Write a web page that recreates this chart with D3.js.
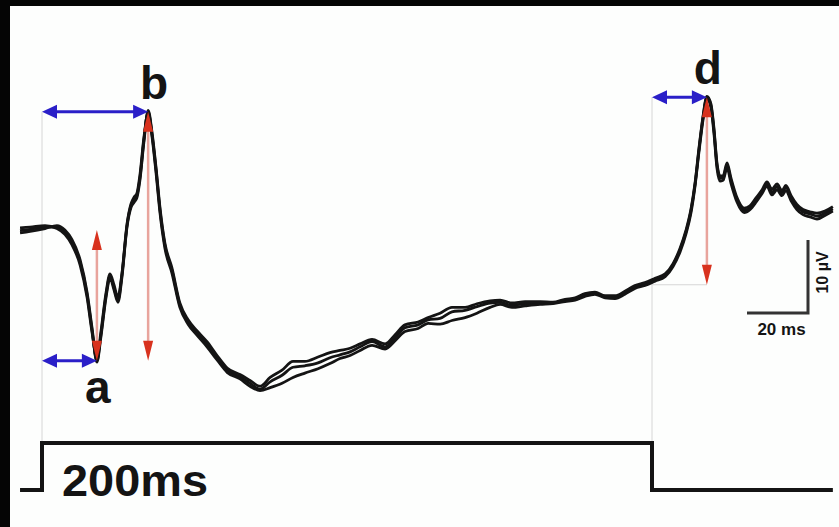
<!DOCTYPE html>
<html>
<head>
<meta charset="utf-8">
<script src="https://cdn.jsdelivr.net/npm/d3@7"></script>
<style>
  body { margin: 0; background: #fdfefd; }
  svg { display: block; }
  text { font-family: "Liberation Sans", Arial, sans-serif; font-weight: bold; fill: #141414; }
</style>
</head>
<body>
<script>
// time of each sample (ms after stimulus onset)
var timeMs = [-7.2,-3.9,1.0,4.9,7.5,9.8,12.5,14.8,16.4,18.0,
  19.3,21.0,22.3,23.6,24.9,26.2,27.9,29.2,30.2,31.1,
  32.1,33.4,34.8,36.1,37.4,38.7,40.3,42.6,45.2,47.9,
  50.8,54.1,57.4,60.7,64.9,68.2,71.5,74.8,78.7,82.3,
  86.2,90.5,94.4,97.7,101.0,104.3,108.2,112.5,115.7,119.0,
  123.3,126.6,130.5,134.4,138.7,142.6,146.9,150.2,154.1,158.4,
  163.3,167.5,171.5,174.8,178.0,181.3,184.6,187.9,191.1,194.4,
  197.7,201.0,204.3,206.9,209.2,211.1,212.8,214.1,215.4,216.7,
  218.0,219.3,220.3,221.3,222.3,223.3,224.6,225.9,227.9,230.2,
  232.1,234.1,236.1,237.7,239.3,241.0,242.6,243.9,245.6,247.5,
  249.5,251.8,254.1,256.7,259.3];

// three recorded responses (µV)
var traceA = [-0.1,0.1,0.4,0.4,-0.3,-1.6,-4.4,-8.9,-13.7,-17.9,
  -14.4,-8.9,-6.3,-7.9,-9.6,-6.2,0.7,3.4,4.1,4.7,
  7.1,12.3,16.2,13.0,8.2,2.7,-2.1,-5.5,-10.3,-12.6,
  -14.1,-15.6,-17.5,-19.2,-20.1,-21.0,-21.8,-20.8,-19.9,-18.8,
  -18.6,-18.2,-17.5,-17.1,-16.7,-16.0,-15.3,-16.0,-14.8,-13.4,
  -13.0,-12.3,-12.1,-11.2,-11.0,-10.5,-10.0,-9.9,-10.3,-10.1,
  -10.0,-10.0,-9.6,-9.5,-8.9,-8.6,-9.2,-9.2,-8.6,-7.8,
  -7.4,-6.8,-6.2,-4.8,-2.7,-0.3,2.7,6.2,11.0,15.3,
  18.2,17.1,13.7,8.9,7.1,7.1,8.9,6.8,4.1,2.7,
  3.0,4.1,5.2,6.3,5.2,5.9,5.1,5.8,4.4,3.2,
  2.5,2.2,1.9,2.3,2.9];
var traceB = [0.3,0.4,0.6,0.2,-0.6,-2.0,-4.8,-9.3,-14.0,-17.6,
  -14.0,-8.6,-6.0,-7.5,-9.2,-6.0,0.9,3.6,4.5,5.0,
  7.5,12.6,16.0,12.7,7.8,2.3,-2.5,-5.9,-10.6,-12.9,
  -14.4,-16.0,-17.8,-19.5,-20.4,-21.4,-22.0,-21.6,-21.0,-20.2,
  -19.6,-19.0,-18.3,-17.6,-17.2,-16.5,-15.8,-16.3,-15.2,-13.9,
  -13.5,-12.8,-12.9,-12.4,-12.0,-11.4,-10.6,-10.2,-10.6,-10.4,
  -10.2,-10.1,-9.8,-9.6,-9.1,-8.8,-9.3,-9.4,-8.8,-8.0,
  -7.6,-7.0,-6.4,-5.0,-3.0,-0.6,2.4,6.0,10.7,15.0,
  18.0,16.8,13.3,8.5,6.7,6.8,8.5,6.4,3.8,2.4,
  2.8,3.8,5.0,6.0,4.8,5.5,4.7,5.4,4.0,2.8,
  2.1,1.8,1.5,2.0,2.6];
var traceC = [-0.4,-0.2,0.2,0.6,0.0,-1.3,-4.1,-8.6,-13.4,-18.1,
  -14.7,-9.2,-6.6,-8.2,-9.9,-6.5,0.5,3.1,3.8,4.4,
  6.8,12.0,16.4,13.3,8.5,3.0,-1.8,-5.2,-10.0,-12.3,
  -13.8,-15.3,-17.2,-18.9,-19.8,-20.6,-21.4,-20.2,-19.2,-18.0,
  -18.0,-17.4,-16.8,-16.5,-16.2,-15.6,-15.0,-15.6,-14.4,-13.0,
  -12.6,-12.0,-11.4,-10.6,-10.6,-10.1,-9.7,-9.6,-10.0,-9.8,
  -9.8,-9.9,-9.5,-9.3,-8.7,-8.5,-9.0,-9.0,-8.4,-7.6,
  -7.2,-6.6,-6.0,-4.6,-2.5,-0.1,2.9,6.4,11.2,15.5,
  18.3,17.3,14.0,9.2,7.4,7.4,9.2,7.1,4.4,3.0,
  3.3,4.4,5.5,6.6,5.6,6.3,5.4,6.1,4.7,3.5,
  2.8,2.5,2.3,2.6,3.2];
var traces = [traceA, traceB, traceC];

// stimulus: light off / on
var stimTimes = [-7.2, 0, 0, 200, 200, 259.3];
var stimLevels = [0, 0, 1, 1, 0, 0];
var stimLabel = "200ms";

// measured waves: a-wave trough, b-wave peak, d-wave peak
var waveNames = ["a", "b", "d"];
var waveTimes = [18.0, 34.8, 218.0];
var waveValues = [-17.9, 16.2, 18.2];
var waveBases = [0, -17.9, -7.5];   // where the amplitude arrow starts
var waveOnsets = [0, 0, 200];       // where the latency arrow starts

// scale bar
var barMs = 20, barUv = 10;
var barLabels = ["20 ms", "10 \u00b5V"];

var width = 839, height = 527;

var svg = d3.select("body").append("svg")
    .attr("width", width)
    .attr("height", height);

svg.append("rect").attr("width", width).attr("height", height).attr("fill", "#fdfefd");

var x = d3.scaleLinear().domain([0, 200]).range([42, 652]);
var y = d3.scaleLinear().domain([-20, 20]).range([376, 84]);
var yStim = d3.scaleLinear().domain([0, 1]).range([490, 443]);

var grid = "#d6d6d6", red = "#d8321e", pink = "#e8a49c", blue = "#2a1fc8";

// thin guide lines
svg.append("line")
    .attr("x1", x(0)).attr("x2", x(0))
    .attr("y1", y(waveValues[1])).attr("y2", yStim(1))
    .attr("stroke", grid).attr("stroke-width", 1);
svg.append("line")
    .attr("x1", x(200)).attr("x2", x(200))
    .attr("y1", y(waveValues[2])).attr("y2", yStim(1))
    .attr("stroke", grid).attr("stroke-width", 1);
svg.append("line")
    .attr("x1", x(200)).attr("x2", x(waveTimes[2]))
    .attr("y1", y(waveBases[2])).attr("y2", y(waveBases[2]))
    .attr("stroke", grid).attr("stroke-width", 1);

// traces
var line = d3.line()
    .x(function(d, i){ return x(timeMs[i]); })
    .y(function(d){ return y(d); })
    .curve(d3.curveMonotoneX);

svg.selectAll(".trace")
    .data(traces)
    .enter()
    .append("path")
    .attr("class", "trace")
    .attr("d", line)
    .attr("fill", "none")
    .attr("stroke", "#141414")
    .attr("stroke-width", 2.8)
    .attr("stroke-linejoin", "round");

// arrowhead helper: tip at (tx,ty), pointing dir ("up","down","left","right")
function head(tx, ty, dir, len, half, color){
    var p;
    if (dir == "up") p = [[tx, ty], [tx - half, ty + len], [tx + half, ty + len]];
    else if (dir == "down") p = [[tx, ty], [tx - half, ty - len], [tx + half, ty - len]];
    else if (dir == "left") p = [[tx, ty], [tx + len, ty - half], [tx + len, ty + half]];
    else p = [[tx, ty], [tx - len, ty - half], [tx - len, ty + half]];
    svg.append("path").attr("d", "M" + p.join("L") + "Z").attr("fill", color);
}

// amplitude arrows (red, vertical)
waveNames.forEach(function(n, i){
    var xx = x(waveTimes[i]);
    var y1 = y(Math.max(waveValues[i], waveBases[i]));
    var y2 = y(Math.min(waveValues[i], waveBases[i]));
    svg.append("line")
        .attr("x1", xx).attr("x2", xx)
        .attr("y1", y1 + 8).attr("y2", y2 - 8)
        .attr("stroke", pink).attr("stroke-width", 2.5);
    head(xx, y1, "up", 20, 5, red);
    head(xx, y2, "down", 20, 5, red);
});

// latency arrows (blue, horizontal)
waveNames.forEach(function(n, i){
    var yy = y(waveValues[i]);
    var x1 = x(waveOnsets[i]), x2 = x(waveTimes[i]);
    svg.append("line")
        .attr("x1", x1 + 6).attr("x2", x2 - 6)
        .attr("y1", yy).attr("y2", yy)
        .attr("stroke", blue).attr("stroke-width", 3);
    head(x1, yy, "left", 15, 7, blue);
    head(x2, yy, "right", 15, 7, blue);
});

// wave labels
svg.selectAll(".wave")
    .data(waveNames)
    .enter()
    .append("text")
    .attr("class", "wave")
    .attr("x", function(d, i){ return x(waveTimes[i]) + (d == "b" ? 6 : 1); })
    .attr("y", function(d, i){ return d == "a" ? y(waveValues[i]) + 42 : y(waveValues[i]) - 13; })
    .attr("text-anchor", "middle")
    .attr("font-size", 46)
    .text(function(d){ return d; });

// stimulus trace
var stimLine = d3.line()
    .x(function(d, i){ return x(stimTimes[i]); })
    .y(function(d){ return yStim(d); });

svg.append("path")
    .attr("d", stimLine(stimLevels))
    .attr("fill", "none")
    .attr("stroke", "#141414")
    .attr("stroke-width", 4)
    .attr("stroke-linejoin", "miter");

svg.append("text")
    .attr("x", 62).attr("y", 496)
    .attr("font-size", 44)
    .attr("textLength", 146)
    .attr("lengthAdjust", "spacingAndGlyphs")
    .text(stimLabel);

// scale bar
var bx = 808, by = 313;
var barW = x(barMs) - x(0), barH = y(0) - y(barUv);
svg.append("path")
    .attr("d", "M" + (bx - barW) + "," + by + "H" + bx + "V" + (by - barH))
    .attr("fill", "none")
    .attr("stroke", "#333")
    .attr("stroke-width", 3);
svg.append("text")
    .attr("x", bx - barW / 2 + 4).attr("y", by + 22)
    .attr("text-anchor", "middle")
    .attr("font-size", 17)
    .attr("fill", "#333")
    .text(barLabels[0]);
svg.append("text")
    .attr("transform", "translate(" + (bx + 20) + "," + (by - barH / 2 - 4) + ") rotate(-90)")
    .attr("text-anchor", "middle")
    .attr("font-size", 16)
    .attr("fill", "#333")
    .text(barLabels[1]);

// frame edges
svg.append("rect").attr("x", 0).attr("y", 0).attr("width", 10).attr("height", height).attr("fill", "#050505");
svg.append("rect").attr("x", 0).attr("y", 0).attr("width", width).attr("height", 6).attr("fill", "#050505");
</script>
</body>
</html>
